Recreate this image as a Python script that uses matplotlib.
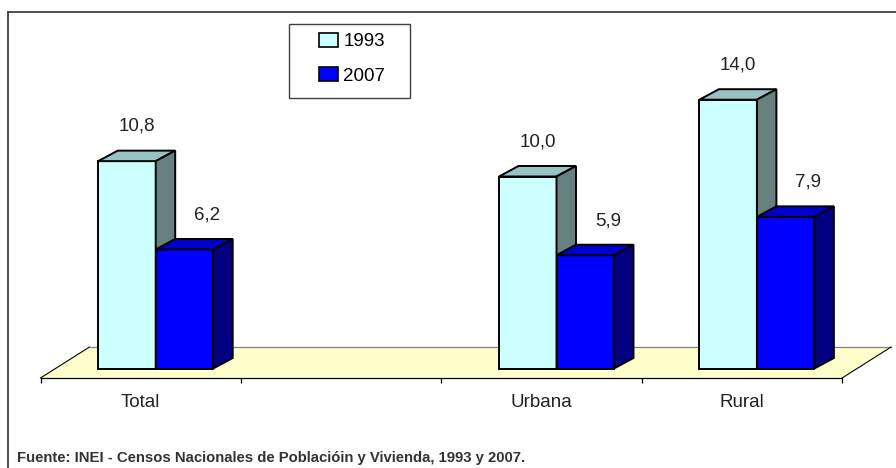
import numpy as np
import matplotlib
matplotlib.use("Agg")
import matplotlib.pyplot as plt
from matplotlib import font_manager
from matplotlib.patches import Polygon, Rectangle, Patch
from matplotlib.lines import Line2D

categories = ["Total", "", "Urbana", "Rural"]
series_names = ["1993", "2007"]
values_1993 = [10.8, np.nan, 10.0, 14.0]
values_2007 = [6.2, np.nan, 5.9, 7.9]
source_note = "Fuente: INEI - Censos Nacionales de Poblacióin y Vivienda, 1993 y 2007."

# face colours: front, top, side
colors_1993 = ("#CCFFFF", "#99C2C2", "#668080")
colors_2007 = ("#0000FF", "#0000CC", "#000080")
floor_color = "#FFFFCC"

W, H, DPI = 896, 468, 100
SLOT = 200.4   # px per category slot
PPV = 19.2     # px per value unit
X0, Y0 = 40.5, 378.0   # floor front-left corner in px

fonts = {f.name for f in font_manager.fontManager.ttflist}
main_font = "Liberation Sans" if "Liberation Sans" in fonts else "DejaVu Sans"
plt.rcParams["font.family"] = [main_font, "DejaVu Sans"]

fig = plt.figure(figsize=(W / DPI, H / DPI), dpi=DPI)
ax = fig.add_axes([X0 / W, (H - Y0) / H, 4 * SLOT / W, (Y0 - 12) / H])
ax.set_xlim(0, 4)
ax.set_ylim(0, (Y0 - 12) / PPV)

# depth offsets (data units)
fdx, fdy = 49 / SLOT, 31 / PPV          # floor depth
bx0, by0 = 15 / SLOT, 9.5 / PPV         # where bars stand on the floor
bdx, bdy = 19.5 / SLOT, 10.5 / PPV      # bar depth
bw = 57.5 / SLOT                        # bar width

n = len(categories)
floor = Polygon([(0, 0), (n, 0), (n + fdx, fdy), (fdx, fdy)], closed=True,
                facecolor=floor_color, edgecolor="none", zorder=1, clip_on=False)
ax.add_patch(floor)
ax.plot([fdx, n + fdx], [fdy, fdy], color="#808080", lw=0.9, zorder=1.5, clip_on=False)
ax.plot([0, fdx], [0, fdy], color="black", lw=0.8, zorder=1.5, clip_on=False)
ax.plot([n, n + fdx], [0, fdy], color="black", lw=0.8, zorder=1.5, clip_on=False)


def draw_bar(xl, v, cols):
    yb = by0
    yt = by0 + v
    front = [(xl, yb), (xl + bw, yb), (xl + bw, yt), (xl, yt)]
    top = [(xl, yt), (xl + bw, yt), (xl + bw + bdx, yt + bdy), (xl + bdx, yt + bdy)]
    side = [(xl + bw, yb), (xl + bw + bdx, yb + bdy), (xl + bw + bdx, yt + bdy), (xl + bw, yt)]
    for pts, c in zip((front, top, side), cols):
        ax.add_patch(Polygon(pts, closed=True, facecolor=c, edgecolor="black",
                             lw=1.4, joinstyle="miter", zorder=3, clip_on=False))


label_nudge = [0.0, 13 / SLOT]
for i in range(n):
    for s, (vals, cols) in enumerate(((values_1993, colors_1993), (values_2007, colors_2007))):
        v = vals[i]
        if np.isnan(v):
            continue
        xl = i + 0.5 + (s - 1) * bw + bx0
        draw_bar(xl, v, cols)
        ax.text(xl + bw / 2 + bdx / 2 + label_nudge[s], v + 2.3,
                f"{v:.1f}".replace(".", ","), ha="center", va="center",
                fontsize=13.5, color="#222222", zorder=5)

# axis: floor front edge with slot ticks
for sp in ["top", "left", "right"]:
    ax.spines[sp].set_visible(False)
ax.spines["bottom"].set_linewidth(0.9)
ax.set_yticks([])
ax.set_xticks(np.arange(n + 1))
ax.set_xticklabels([])
ax.set_xticks(np.arange(n) + 0.5, minor=True)
ax.set_xticklabels(categories, minor=True, fontsize=13.5, color="#222222")
ax.tick_params(axis="x", which="major", length=3.8, width=0.9, direction="out")
ax.tick_params(axis="x", which="minor", length=0, pad=11.5)
ax.patch.set_visible(False)

# chart frame (clipped on right and bottom)
fig.add_artist(Line2D([8 / W, 8 / W], [0, 1 - 12 / H], color="#404040", lw=1.3))
fig.add_artist(Line2D([8 / W, 1], [1 - 12 / H, 1 - 12 / H], color="#404040", lw=1.3))

# legend
fig.add_artist(Rectangle((289 / W, 1 - 98 / H), 121 / W, 74 / H, transform=fig.transFigure,
                         facecolor="white", edgecolor="#404040", lw=1.0))
handles = [Patch(facecolor=colors_1993[0], edgecolor="black", lw=1.2),
           Patch(facecolor=colors_2007[0], edgecolor="black", lw=1.2)]
fig.legend(handles, series_names, loc="upper left", bbox_to_anchor=(319 / W, 1 - 33 / H),
           frameon=False, fontsize=13.5, borderpad=0, borderaxespad=0,
           handlelength=1.0, handleheight=0.75, handletextpad=0.3, labelspacing=0.9)

fig.text(17 / W, 1 - 462 / H, source_note, ha="left", va="baseline",
         fontsize=10.7, fontweight="bold", color="#333333")

fig.savefig("out.png", dpi=DPI)
